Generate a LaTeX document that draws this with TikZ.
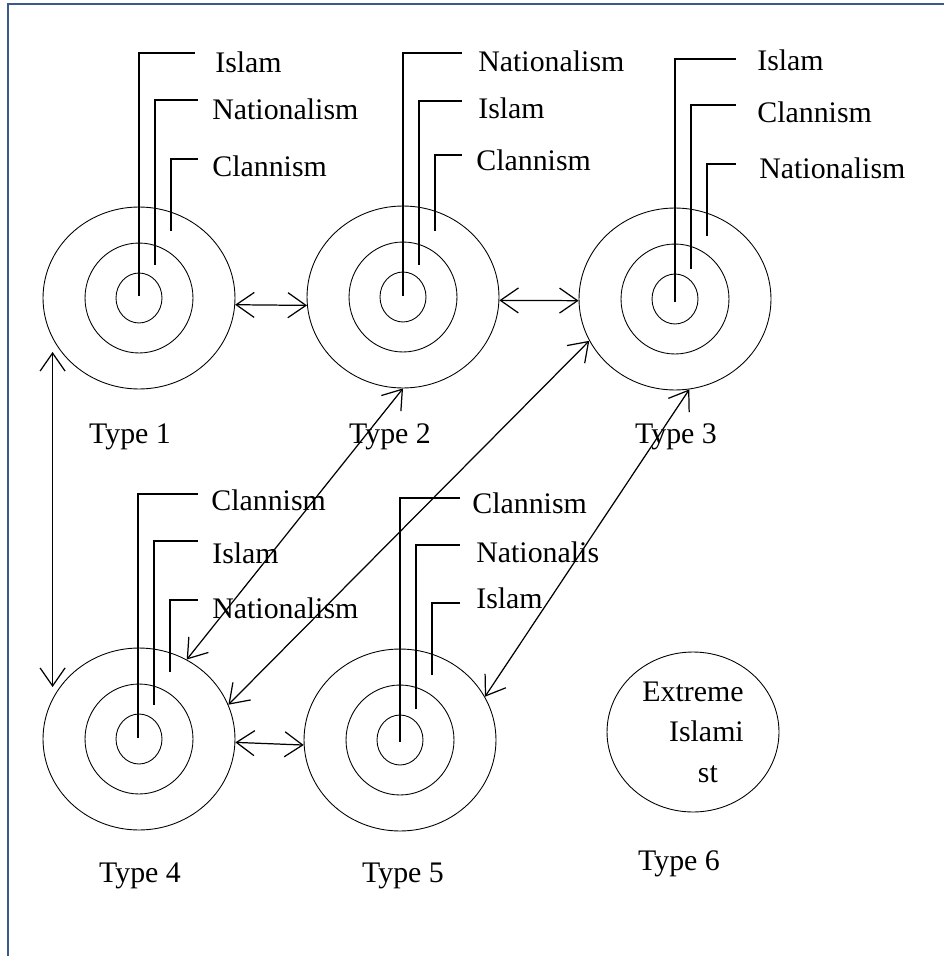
\documentclass[tikz,border=0pt]{standalone}
\usepackage{fontspec}
\setmainfont{Liberation Serif}
\usetikzlibrary{shapes.geometric,arrows.meta,calc}
\definecolor{edgeblue}{HTML}{3B5A8C}

\begin{document}
\begin{tikzpicture}[
  x=0.02cm, y=-0.02cm,
  font=\fontsize{17}{20}\selectfont,
  ring/.style={ellipse,draw,line width=0.5pt,inner sep=0pt,minimum width=3.84cm,minimum height=3.64cm},
  midring/.style={ellipse,draw,line width=0.5pt,inner sep=0pt,minimum width=2.16cm,minimum height=2.2cm},
  core/.style={ellipse,draw,line width=0.5pt,inner sep=0pt,minimum width=0.92cm,minimum height=1cm},
  lab/.style={anchor=base west,inner sep=0pt},
  typelab/.style={anchor=base,inner sep=0pt},
  lead/.style={line width=0.9pt},
  link/.style={<->,line width=0.7pt},
  >={Straight Barb[length=3.6mm,width=5mm]}
]
\useasboundingbox (0,0) rectangle (944,956);
\draw[edgeblue,line width=1.1pt] (8,956) -- (8,4) -- (944,4);

% Type 1
\node[ring] (t1) at (139,298) {};
\node[midring] (t1m) at (t1.center) {};
\node[core] (t1c) at (t1.center) {};
\node[lab] (t1a) at (215,73) {Islam};
\node[lab] (t1b) at (212,120) {Nationalism};
\node[lab] (t1d) at (212,176) {Clannism};
\draw[lead] ($(t1.center)+(0,-2)$) |- ($(t1a.base west)+(-20,-20)$);
\draw[lead] ($(t1.center)+(16,-33)$) |- ($(t1b.base west)+(-14,-20)$);
\draw[lead] ($(t1.center)+(32,-67)$) |- ($(t1d.base west)+(-14,-17)$);
\node[typelab] (n1) at (130,443) {Type 1};

% Type 2
\node[ring] (t2) at (403,297) {};
\node[midring] (t2m) at (t2.center) {};
\node[core] (t2c) at (t2.center) {};
\node[lab] (t2a) at (478,72) {Nationalism};
\node[lab] (t2b) at (478,119) {Islam};
\node[lab] (t2d) at (476,171) {Clannism};
\draw[lead] ($(t2.center)+(0,-1)$) |- ($(t2a.base west)+(-16,-19)$);
\draw[lead] ($(t2.center)+(16,-32)$) |- ($(t2b.base west)+(-16,-18)$);
\draw[lead] ($(t2.center)+(32,-66)$) |- ($(t2d.base west)+(-14,-16)$);
\node[typelab] (n2) at (390,443) {Type 2};

% Type 3
\node[ring] (t3) at (675,299) {};
\node[midring] (t3m) at (t3.center) {};
\node[core] (t3c) at (t3.center) {};
\node[lab] (t3a) at (757,71) {Islam};
\node[lab] (t3b) at (757,123) {Clannism};
\node[lab] (t3d) at (759,179) {Nationalism};
\draw[lead] ($(t3.center)+(0,3)$) |- ($(t3a.base west)+(-21,-12)$);
\draw[lead] ($(t3.center)+(16,-30)$) |- ($(t3b.base west)+(-21,-18)$);
\draw[lead] ($(t3.center)+(32,-63)$) |- ($(t3d.base west)+(-23,-15)$);
\node[typelab] (n3) at (676,443) {Type 3};

% Type 4
\node[ring] (t4) at (139,739) {};
\node[midring] (t4m) at (t4.center) {};
\node[core] (t4c) at (t4.center) {};
\node[lab] (t4a) at (211,510) {Clannism};
\node[lab] (t4b) at (212,563) {Islam};
\node[lab] (t4d) at (212,618) {Nationalism};
\draw[lead] ($(t4.center)+(-1,-1)$) |- ($(t4a.base west)+(-13,-16)$);
\draw[lead] ($(t4.center)+(15,-34)$) |- ($(t4b.base west)+(-14,-22)$);
\draw[lead] ($(t4.center)+(31,-67)$) |- ($(t4d.base west)+(-14,-18)$);
\node[typelab] (n4) at (140,882) {Type 4};

% Type 5
\node[ring] (t5) at (400,740) {};
\node[midring] (t5m) at (t5.center) {};
\node[core] (t5c) at (t5.center) {};
\node[lab] (t5a) at (472,513) {Clannism};
\node[lab] (t5b) at (476,562) {Nationalis};
\node[lab] (t5d) at (476,608) {Islam};
\draw[lead] ($(t5.center)+(0,2)$) |- ($(t5a.base west)+(-12,-15)$);
\draw[lead] ($(t5.center)+(16,-31)$) |- ($(t5b.base west)+(-16,-17)$);
\draw[lead] ($(t5.center)+(32,-65)$) |- ($(t5d.base west)+(-16,-5)$);
\node[typelab] (n5) at (403,882) {Type 5};

% Type 6
\node[ellipse,draw,line width=0.5pt,inner sep=0pt,minimum width=3.44cm,minimum height=3.2cm,
  align=center,font=\fontsize{17}{23}\selectfont] (t6) at (693,732)
  {Extreme\\\hspace*{0.9em}Islami\\\hspace*{1em}st};
\node[typelab] (n6) at (679,870) {Type 6};

\draw[link] (t1.-4) -- (t2.185);
\draw[link] (t2.-2.5) -- (t3.181);
\draw[link] ($(t1.west)+(10,54)$) -- ($(t4.west)+(10,-52)$);
\draw[link] (t4.-2.5) -- (t5.183);
\draw[link] (t4.59) -- (t2.south);
\draw[link] (t4.21) -- (t3.206);
\draw[link] (t5.27) -- (t3.279);
\end{tikzpicture}
\end{document}
